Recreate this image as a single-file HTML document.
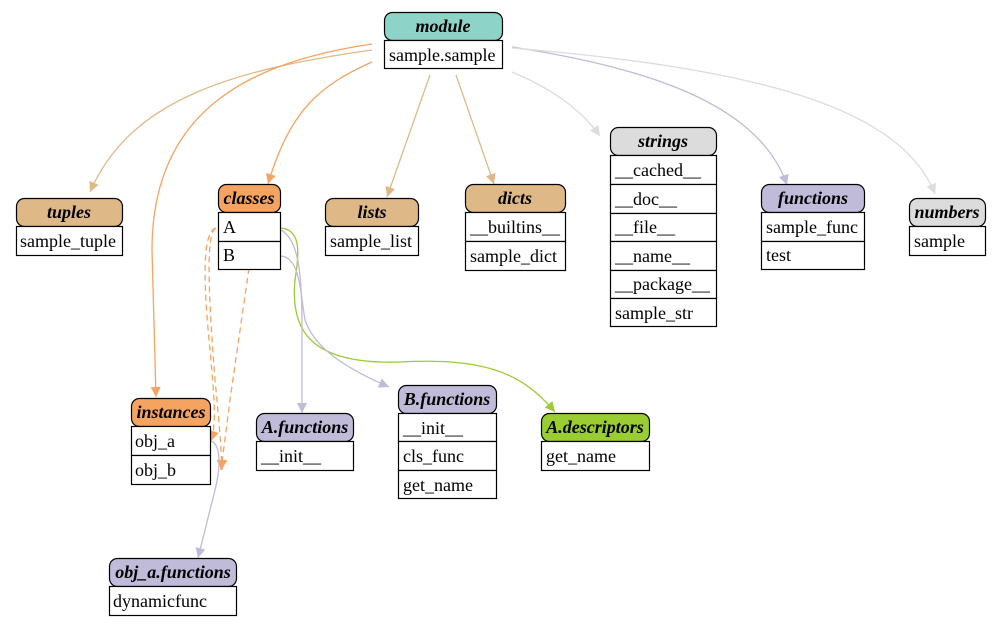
<!DOCTYPE html>
<html><head><meta charset="utf-8"><style>
html,body{margin:0;padding:0;background:#fff}
svg{display:block}
.h{font-family:"Liberation Serif",serif;font-weight:bold;font-style:italic;font-size:18px}
.r{font-family:"Liberation Serif",serif;font-size:18px}
</style></head><body>
<svg width="1000" height="627" viewBox="0 0 1000 627" xmlns="http://www.w3.org/2000/svg">
<defs>
<marker id="mT" viewBox="0 0 10 10" refX="10" refY="5" markerWidth="13" markerHeight="10" markerUnits="userSpaceOnUse" orient="auto"><path d="M0,0L10,5L0,10z" fill="#e0b888"/></marker>
<marker id="mS" viewBox="0 0 10 10" refX="10" refY="5" markerWidth="13" markerHeight="10" markerUnits="userSpaceOnUse" orient="auto"><path d="M0,0L10,5L0,10z" fill="#f4a460"/></marker>
<marker id="mG" viewBox="0 0 10 10" refX="10" refY="5" markerWidth="13" markerHeight="10" markerUnits="userSpaceOnUse" orient="auto"><path d="M0,0L10,5L0,10z" fill="#dcdcdc"/></marker>
<marker id="mP" viewBox="0 0 10 10" refX="10" refY="5" markerWidth="13" markerHeight="10" markerUnits="userSpaceOnUse" orient="auto"><path d="M0,0L10,5L0,10z" fill="#bfbbd9"/></marker>
<marker id="mY" viewBox="0 0 10 10" refX="10" refY="5" markerWidth="13" markerHeight="10" markerUnits="userSpaceOnUse" orient="auto"><path d="M0,0L10,5L0,10z" fill="#9acd32"/></marker>
</defs>
<g fill="none" stroke-width="1.3">
<path d="M372,50 C230,70 130,100 90,192" stroke="#e0b888" marker-end="url(#mT)"/>
<path d="M372,44 C250,62 152,110 152,250 L156,397" stroke="#f4a460" marker-end="url(#mS)"/>
<path d="M372,62 C320,85 290,110 268,184" stroke="#f4a460" marker-end="url(#mS)"/>
<path d="M430,75 L387,197" stroke="#e0b888" marker-end="url(#mT)"/>
<path d="M456,75 L494,184" stroke="#e0b888" marker-end="url(#mT)"/>
<path d="M512,72 C550,88 580,108 600,136" stroke="#dcdcdc" marker-end="url(#mG)"/>
<path d="M512,47 C650,68 760,105 787,185" stroke="#bfbbd9" marker-end="url(#mP)"/>
<path d="M512,48 C750,68 900,105 935,194" stroke="#dcdcdc" marker-end="url(#mG)"/>
<path d="M216,228 C201,232 204,290 210,350 C215,405 216,425 211,441" stroke="#f4a460" stroke-dasharray="6,4" marker-end="url(#mS)"/>
<path d="M216,228 C205,233 209,300 215,380 C219,420 221,445 222,470" stroke="#f4a460" stroke-dasharray="6,4" marker-end="url(#mS)"/>
<path d="M249,268 L230,400 L221,470" stroke="#f4a460" stroke-dasharray="6,4" marker-end="url(#mS)"/>
<path d="M281,228 C300,230 300,250 295,280 C290,330 310,365 400,362 C480,358 520,370 555,412" stroke="#9acd32" marker-end="url(#mY)"/>
<path d="M281,230 C300,240 302,280 302,330 L302,413" stroke="#bfbbd9" marker-end="url(#mP)"/>
<path d="M281,256 C300,258 300,290 305,320 C315,350 350,370 389,387" stroke="#bfbbd9" marker-end="url(#mP)"/>
<path d="M211,441 C222,445 220,470 215,490 C210,510 205,530 198,558" stroke="#bfbbd9" marker-end="url(#mP)"/>
</g>
<g stroke="#000" stroke-width="1.2">
<rect x="384.5" y="12.5" width="118" height="28" rx="8" fill="#8dd3c7"/>
<rect x="384.5" y="40.5" width="118" height="28" fill="#fff"/>
<rect x="16.5" y="198.5" width="106" height="28" rx="8" fill="#deb887"/>
<rect x="16.5" y="226.5" width="106" height="29" fill="#fff"/>
<rect x="218.5" y="184.5" width="62" height="28" rx="8" fill="#f4a460"/>
<rect x="218.5" y="212.5" width="62" height="29" fill="#fff"/>
<rect x="218.5" y="241.5" width="62" height="28" fill="#fff"/>
<rect x="325.5" y="198.5" width="93" height="28" rx="8" fill="#deb887"/>
<rect x="325.5" y="226.5" width="93" height="29" fill="#fff"/>
<rect x="465.5" y="184.5" width="100" height="28" rx="8" fill="#deb887"/>
<rect x="465.5" y="212.5" width="100" height="29" fill="#fff"/>
<rect x="465.5" y="241.5" width="100" height="29" fill="#fff"/>
<rect x="610.5" y="127.5" width="106" height="28" rx="8" fill="#dcdcdc"/>
<rect x="610.5" y="155.5" width="106" height="29" fill="#fff"/>
<rect x="610.5" y="184.5" width="106" height="29" fill="#fff"/>
<rect x="610.5" y="213.5" width="106" height="28" fill="#fff"/>
<rect x="610.5" y="241.5" width="106" height="29" fill="#fff"/>
<rect x="610.5" y="270.5" width="106" height="28" fill="#fff"/>
<rect x="610.5" y="298.5" width="106" height="28" fill="#fff"/>
<rect x="761.5" y="184.5" width="103" height="28" rx="8" fill="#bfbbd9"/>
<rect x="761.5" y="212.5" width="103" height="29" fill="#fff"/>
<rect x="761.5" y="241.5" width="103" height="28" fill="#fff"/>
<rect x="909.5" y="198.5" width="76" height="28" rx="8" fill="#dcdcdc"/>
<rect x="909.5" y="226.5" width="76" height="29" fill="#fff"/>
<rect x="131.5" y="398.5" width="79" height="28" rx="8" fill="#f4a460"/>
<rect x="131.5" y="426.5" width="79" height="29" fill="#fff"/>
<rect x="131.5" y="455.5" width="79" height="29" fill="#fff"/>
<rect x="256.5" y="413.5" width="97" height="28" rx="8" fill="#bfbbd9"/>
<rect x="256.5" y="441.5" width="97" height="29" fill="#fff"/>
<rect x="398.5" y="385.5" width="98" height="28" rx="8" fill="#bfbbd9"/>
<rect x="398.5" y="413.5" width="98" height="28" fill="#fff"/>
<rect x="398.5" y="441.5" width="98" height="29" fill="#fff"/>
<rect x="398.5" y="470.5" width="98" height="28" fill="#fff"/>
<rect x="541.5" y="413.5" width="108" height="28" rx="8" fill="#9acd32"/>
<rect x="541.5" y="441.5" width="108" height="29" fill="#fff"/>
<rect x="109.5" y="558.5" width="127" height="28" rx="8" fill="#bfbbd9"/>
<rect x="109.5" y="586.5" width="127" height="29" fill="#fff"/>
</g>
<g class="h" text-anchor="middle">
<text x="443" y="32">module</text>
<text x="69" y="218">tuples</text>
<text x="249" y="204">classes</text>
<text x="372" y="218">lists</text>
<text x="515" y="204">dicts</text>
<text x="663" y="147">strings</text>
<text x="813" y="204">functions</text>
<text x="947" y="218">numbers</text>
<text x="171" y="418">instances</text>
<text x="305" y="433">A.functions</text>
<text x="447" y="405">B.functions</text>
<text x="595" y="433">A.descriptors</text>
<text x="173" y="578">obj_a.functions</text>
</g>
<g class="r">
<text x="389" y="61">sample.sample</text>
<text x="20" y="247">sample_tuple</text>
<text x="223" y="233">A</text>
<text x="223" y="261">B</text>
<text x="330" y="247">sample_list</text>
<text x="470" y="233">__builtins__</text>
<text x="470" y="262">sample_dict</text>
<text x="615" y="176">__cached__</text>
<text x="615" y="205">__doc__</text>
<text x="615" y="233">__file__</text>
<text x="615" y="262">__name__</text>
<text x="615" y="290">__package__</text>
<text x="615" y="319">sample_str</text>
<text x="766" y="233">sample_func</text>
<text x="766" y="261">test</text>
<text x="914" y="247">sample</text>
<text x="135" y="447">obj_a</text>
<text x="135" y="476">obj_b</text>
<text x="261" y="462">__init__</text>
<text x="403" y="434">__init__</text>
<text x="403" y="462">cls_func</text>
<text x="403" y="491">get_name</text>
<text x="546" y="462">get_name</text>
<text x="113" y="607">dynamicfunc</text>
</g>
</svg>
</body></html>
